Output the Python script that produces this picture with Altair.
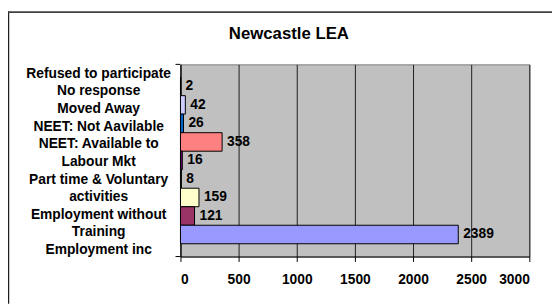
import altair as alt
import pandas as pd

# ---- data (bars listed top to bottom) ----
bar_ids = ["s9", "s8", "s7", "s6", "s5", "s4", "s3", "s2", "s1"]
bar_values = [2, 42, 26, 358, 16, 8, 159, 121, 2389]
bar_colors = ["#000080", "#CCCCFF", "#0066CC", "#FF8080", "#660066",
              "#CCFFFF", "#FFFFCC", "#993366", "#9999FF"]

label_lines = [
    "Refused to participate",
    "No response",
    "Moved Away",
    "NEET: Not Aavilable",
    "NEET: Available to",
    "Labour Mkt",
    "Part time & Voluntary",
    "activities",
    "Employment without",
    "Training",
    "Employment inc",
]

x_ticks = [0, 500, 1000, 1500, 2000, 2500, 3000]
title_text = "Newcastle LEA"

FONT = "Liberation Sans"
W, H = 354, 195
PAD = {"left": 175, "top": 55, "right": 23, "bottom": 48}

bars_df = pd.DataFrame({"id": bar_ids, "value": bar_values})
lines_df = pd.DataFrame({"line": label_lines})
one = pd.DataFrame({"k": [0]})

x_enc = alt.X(
    "value:Q",
    scale=alt.Scale(domain=[0, 3000], nice=False),
    axis=alt.Axis(values=x_ticks, title=None, grid=True, gridColor="#202020",
                  gridWidth=1, tickSize=5, labelPadding=11, format="d"),
)
y_scale = alt.Scale(type="band", paddingInner=0, paddingOuter=0.69)

bars = alt.Chart(bars_df).mark_bar(stroke="black", strokeWidth=1).encode(
    x=x_enc,
    y=alt.Y("id:N", sort=bar_ids, scale=y_scale,
            axis=alt.Axis(labels=False, ticks=False, title=None, grid=False)),
    color=alt.Color("id:N", scale=alt.Scale(domain=bar_ids, range=bar_colors), legend=None),
)

values = alt.Chart(bars_df).mark_text(
    align="left", baseline="middle", dx=5, font=FONT, fontWeight="bold",
    fontSize=14, color="black",
).encode(
    x="value:Q",
    y=alt.Y("id:N", sort=bar_ids, scale=y_scale, axis=None),
    text="value:Q",
)

labels = alt.Chart(lines_df).mark_text(
    align="center", baseline="middle", font=FONT, fontWeight="bold",
    fontSize=14, color="black", dy=1.5,
).encode(
    y=alt.Y("line:N", sort=label_lines, scale=alt.Scale(type="point", padding=0.45), axis=None),
    x=alt.value(-83),
    text="line:N",
)

title = alt.Chart(one).mark_text(
    align="center", baseline="middle", font=FONT, fontWeight="bold",
    fontSize=17, color="black",
).encode(x=alt.value(110), y=alt.value(-31), text=alt.value(title_text))

tick_top = alt.Chart(one).mark_rule(color="black").encode(
    x=alt.value(-5), x2=alt.value(0), y=alt.value(0))
tick_bot = alt.Chart(one).mark_rule(color="black").encode(
    x=alt.value(-5), x2=alt.value(0), y=alt.value(H))
border_left = alt.Chart(one).mark_rule(color="#202020", strokeWidth=1.5).encode(
    x=alt.value(-174.5), y=alt.value(-54), y2=alt.value(H + PAD["bottom"]))
border_top = alt.Chart(one).mark_rule(color="#404040", strokeWidth=2).encode(
    x=alt.value(-175), x2=alt.value(W + PAD["right"]), y=alt.value(-53))

chart = alt.layer(
    bars, values, labels, title, tick_top, tick_bot, border_left, border_top
).resolve_scale(y="independent").properties(
    width=W, height=H, padding=PAD, autosize="none", background="white",
).configure_view(
    fill="#C0C0C0", stroke="#808080", strokeWidth=1,
).configure_axis(
    labelFont=FONT, labelFontWeight="bold", labelFontSize=14, labelColor="black",
    tickColor="black", domainColor="black", domainWidth=1,
)

chart.save("out.html", embed_options={"renderer": "svg", "actions": False})
